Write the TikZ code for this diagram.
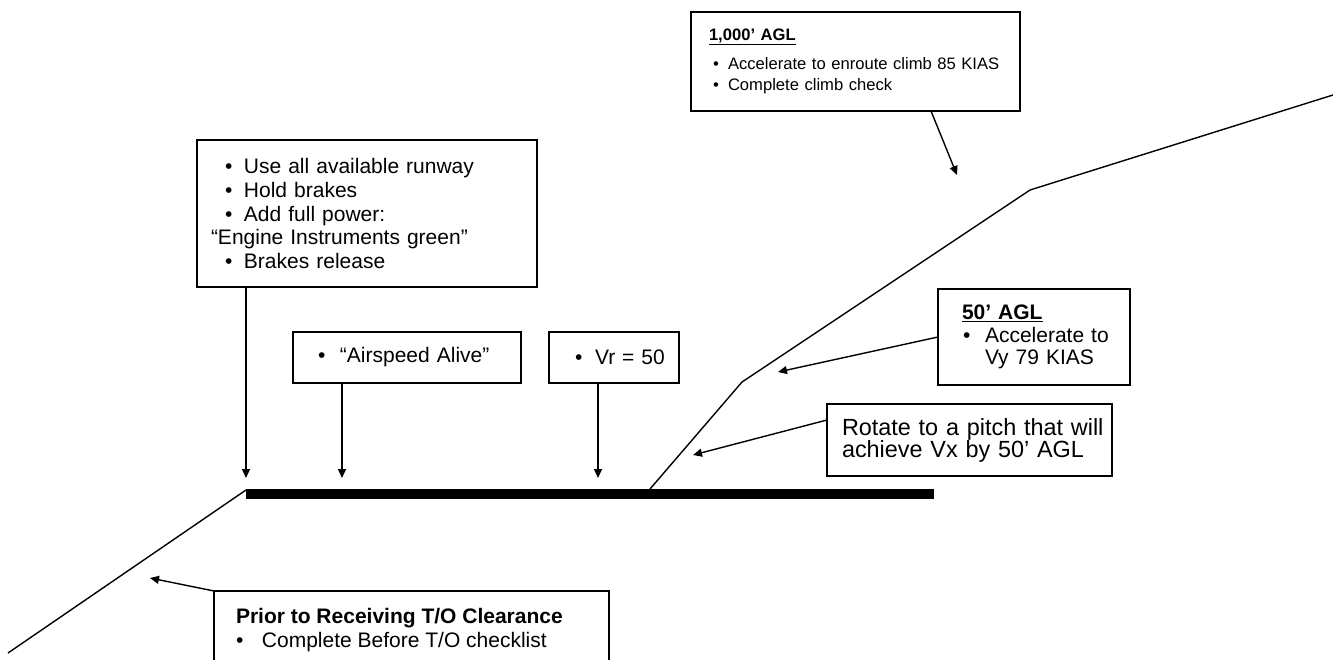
\documentclass[tikz,border=0pt]{standalone}
\usepackage{fontspec}
\setmainfont{Liberation Sans}
\usetikzlibrary{arrows.meta,positioning}

% bullet with indent and gap
\newcommand{\bul}[2][0pt]{\hspace*{#1}\makebox[#2][l]{\textbullet}}

\begin{document}
\begin{tikzpicture}[x=1pt, y=-1pt,
    box/.style={rectangle, draw, line width=1.8pt, anchor=north west, align=left, inner xsep=0pt, inner ysep=0pt, outer sep=0pt, font=\fontsize{21pt}{23.7pt}\selectfont},
    arrow/.style={-{Triangle[length=9pt,width=8pt]}, line width=1.4pt},
    flight/.style={line width=1.4pt},
    runway/.style={line width=10pt}
]
\useasboundingbox (0,0) rectangle (1340,660);

% Draw boxes
\node[box, text width=340pt, minimum height=147pt] (takeoff) at (197,140) {\bul[28pt]{19pt}Use all available runway\\ \bul[28pt]{19pt}Hold brakes\\ \bul[28pt]{19pt}Add full power:\\ \hspace*{14pt}“Engine Instruments green”\\ \bul[28pt]{19pt}Brakes release};

\node[box, text width=228pt, minimum height=51pt] (airspeed) at (293,332) {\bul[25pt]{22pt}“Airspeed Alive”};

\node[box, text width=130pt, minimum height=51pt] (vr) at (549,332) {\bul[26pt]{20pt}Vr = 50};

\node[box, text width=329pt, minimum height=99pt, font=\fontsize{16.6pt}{21pt}\selectfont] (alt1000) at (691,12) {\hspace*{18pt}\underline{\textbf{1,000’ AGL}}\\[8pt] \bul[22pt]{15pt}Accelerate to enroute climb 85 KIAS\\ \bul[22pt]{15pt}Complete climb check};

\node[box, text width=192pt, minimum height=96pt, font=\fontsize{21pt}{22.5pt}\selectfont] (agl50) at (938,289) {\hspace*{24pt}\underline{\textbf{50’ AGL}}\\ \bul[25pt]{22pt}Accelerate to\\ \hspace*{47pt}Vy 79 KIAS};

\node[box, text width=285pt, minimum height=72pt, font=\fontsize{23.4pt}{22pt}\selectfont] (pitch) at (827,404) {\hspace*{15pt}Rotate to a pitch that will\\ \hspace*{15pt}achieve Vx by 50’ AGL};

\node[box, font=\fontsize{21pt}{24.5pt}\selectfont] (prior) at (214,591) {\parbox[t][100pt][t]{395pt}{\raggedright\rule{0pt}{32pt}\hspace*{22pt}\textbf{Prior to Receiving T/O Clearance}\\ \bul[22pt]{26pt}Complete Before T/O checklist}};

% Flight path points
\coordinate (approach) at (8,653);
\coordinate (threshold) at (246,490);
\coordinate (rwystart) at (246,494);
\coordinate (rwyend) at (934,494);
\coordinate (liftoff) at (650,489);
\coordinate (level50) at (742,382);
\coordinate (level1000) at (1030,190);
\coordinate (climbout) at (1333,95);

% Arrow targets
\coordinate (release) at (246,478);
\coordinate (alive) at (342,478);
\coordinate (vrpoint) at (598,478);
\coordinate (rotation) at (693,455);
\coordinate (vypoint) at (778,372);
\coordinate (cruise) at (957,175);
\coordinate (holding) at (150,578);

% Draw runway and flight path
\draw[runway] (rwystart) -- (rwyend);
\draw[flight] (approach) -- (threshold);
\draw[flight] (liftoff) -- (level50) -- (level1000) -- (climbout);

% Draw arrows
\draw[arrow] (takeoff.south -| release) -- (release);
\draw[arrow] (airspeed.south -| alive) -- (alive);
\draw[arrow] (vr.south -| vrpoint) -- (vrpoint);
\draw[arrow] ([xshift=75.5pt]alt1000.south) -- (cruise);
\draw[arrow] (agl50.west) -- (vypoint);
\draw[arrow] ([yshift=20pt]pitch.west) -- (rotation);
\draw[arrow] (prior.north west) -- (holding);

\end{tikzpicture}
\end{document}
